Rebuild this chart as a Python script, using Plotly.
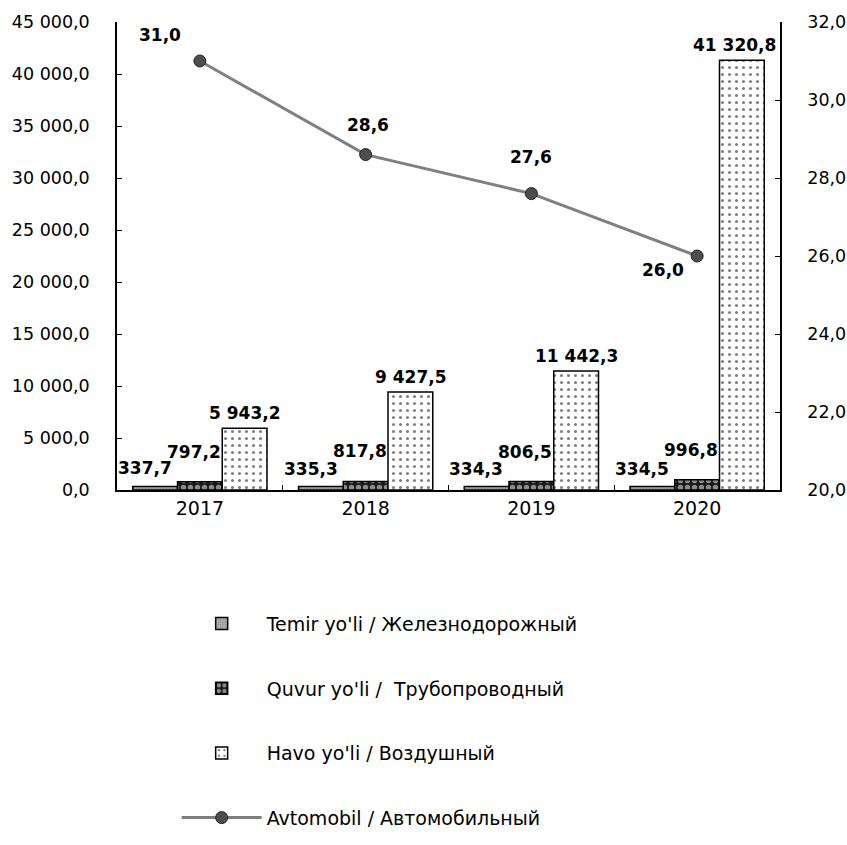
import plotly.graph_objects as go

years = ["2017", "2018", "2019", "2020"]
temir = [337.7, 335.3, 334.3, 334.5]
quvur = [797.2, 817.8, 806.5, 996.8]
havo = [5943.2, 9427.5, 11442.3, 41320.8]
avto = [31.0, 28.6, 27.6, 26.0]

names = [
    "Temir yo'li / Железнодорожный",
    "Quvur yo'li /  Трубопроводный",
    "Havo yo'li / Воздушный",
    "Avtomobil / Автомобильный",
]

FONT = "DejaVu Sans, Liberation Sans, Arial, sans-serif"
LABEL_FONT = dict(family=FONT, size=17, color="#000000")


def fmt(v):
    s = f"{v:,.1f}"
    return s.replace(",", " ").replace(".", ",")


fig = go.Figure()

# (values, pattern fill) per bar series
bar_styles = [
    (temir, dict(bgcolor="#b4b4b4", fgcolor="#5a5a5a", shape=".", size=3, solidity=0.4)),
    (quvur, dict(bgcolor="#1a1a1a", fgcolor="#ffffff", shape=".", size=7, solidity=0.45)),
    (havo, dict(bgcolor="#ffffff", fgcolor="#000000", shape=".", size=7, solidity=0.15)),
]

for i, (vals, pat) in enumerate(bar_styles):
    fig.add_trace(go.Bar(
        x=years, y=vals, name=names[i], legendgroup=f"g{i}",
        marker=dict(color=pat["bgcolor"], line=dict(color="#000000", width=1.5),
                    pattern=dict(shape=pat["shape"], fgcolor=pat["fgcolor"],
                                 bgcolor=pat["bgcolor"], size=pat["size"],
                                 solidity=pat["solidity"], fillmode="overlay")),
    ))

fig.add_trace(go.Scatter(
    x=years, y=avto, name=names[3], legendgroup="g3", yaxis="y2",
    mode="lines+markers",
    line=dict(color="#808080", width=3),
    marker=dict(size=12, color="#4d4d4d", line=dict(color="#222222", width=1)),
    cliponaxis=False,
))

# bar value labels (x given as category index, offsets in pixels);
# the two short series are staggered so they do not collide
for idx, v in enumerate(temir):
    fig.add_annotation(x=idx, y=v, xref="x", yref="y", text=f"<b>{fmt(v)}</b>",
                       showarrow=False, xshift=-55, yshift=18, font=LABEL_FONT)
for idx, v in enumerate(quvur):
    fig.add_annotation(x=idx, y=v, xref="x", yref="y", text=f"<b>{fmt(v)}</b>",
                       showarrow=False, xshift=-6, yshift=30, font=LABEL_FONT)
havo_xshift = [45, 45, 45, 37]
for idx, (v, dx) in enumerate(zip(havo, havo_xshift)):
    fig.add_annotation(x=idx, y=v, xref="x", yref="y", text=f"<b>{fmt(v)}</b>",
                       showarrow=False, xshift=dx, yanchor="bottom", yshift=3,
                       font=LABEL_FONT)

# value labels for the line series
label_shifts = [(-40, 26), (2, 30), (0, 37), (-34, -14)]
for idx, (v, (dx, dy)) in enumerate(zip(avto, label_shifts)):
    fig.add_annotation(x=idx, y=v, xref="x", yref="y2", text=f"<b>{fmt(v)}</b>",
                       showarrow=False, xshift=dx, yshift=dy, font=LABEL_FONT)

fig.update_layout(
    width=847, height=845,
    margin=dict(l=117, r=67, t=22, b=355, autoexpand=False),
    paper_bgcolor="#ffffff", plot_bgcolor="#ffffff",
    separators=", ",
    barmode="group", bargap=0.19, bargroupgap=0.0,
    font=dict(family=FONT, size=17, color="#000000"),
    showlegend=True,
    legend=dict(x=0.09, y=-0.245, xanchor="left", yanchor="top",
                traceorder="grouped", tracegroupgap=37,
                font=dict(family=FONT, size=19, color="#000000"),
                itemwidth=80, bgcolor="rgba(0,0,0,0)"),
    xaxis=dict(type="category", range=[-0.5, len(years) - 0.5], automargin=False,
               showline=True, linecolor="#000000", linewidth=1.5,
               ticks="inside", tickson="boundaries", ticklen=5, tickcolor="#000000",
               showgrid=False, tickangle=0, tickfont=dict(family=FONT, size=19)),
    yaxis=dict(range=[0, 45000], dtick=5000, tickformat=",.1f", automargin=False,
               showline=True, linecolor="#000000", linewidth=1.5,
               ticks="inside", ticklen=5, tickcolor="#000000",
               showgrid=False, zeroline=False, ticklabelstandoff=22,
               tickfont=dict(family=FONT, size=17.5)),
    yaxis2=dict(range=[20, 32], dtick=2, tickformat=".1f", overlaying="y", side="right",
                automargin=False,
                showline=True, linecolor="#000000", linewidth=1.5,
                ticks="inside", ticklen=5, tickcolor="#000000",
                showgrid=False, zeroline=False, ticklabelstandoff=22,
                tickfont=dict(family=FONT, size=17.5)),
)

fig.write_html("out.html")
